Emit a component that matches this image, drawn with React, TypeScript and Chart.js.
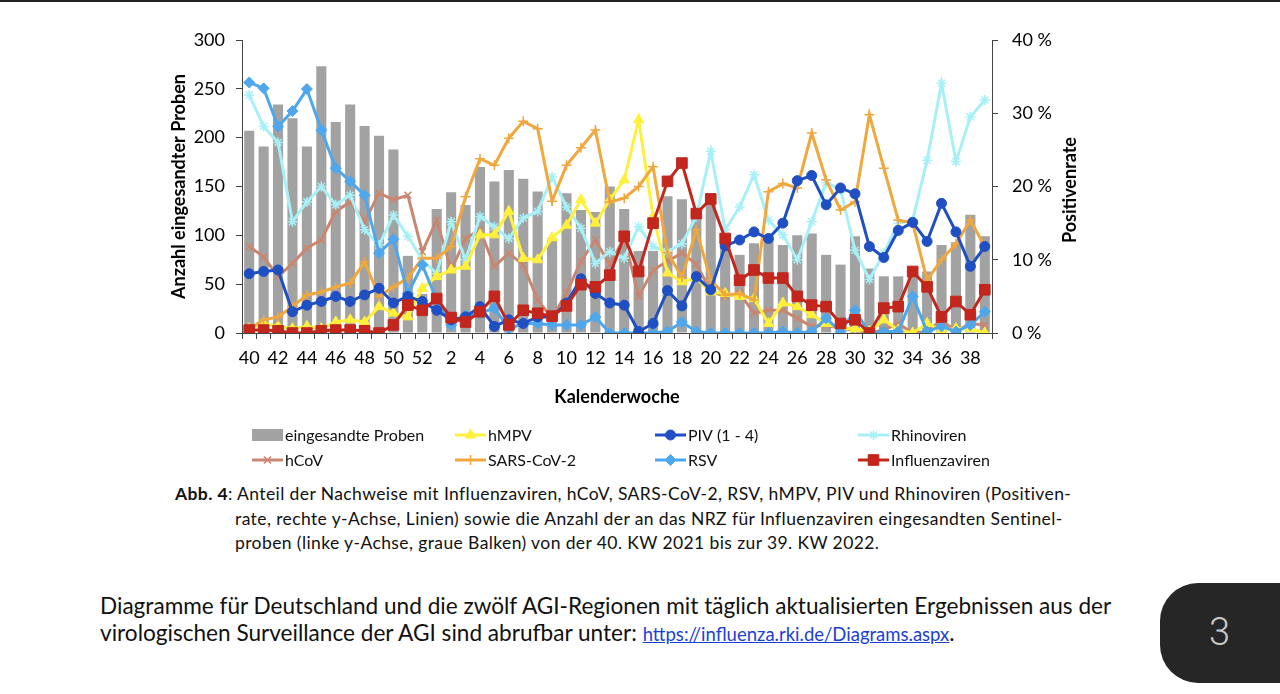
import React, { useEffect, useRef } from 'react';
import { Chart, registerables } from 'chart.js';
import { drawPoint } from 'chart.js/helpers';

Chart.register(...registerables);

// ---------- data ----------
const weeks = ['40','41','42','43','44','45','46','47','48','49','50','51','52','1','2','3','4','5','6','7','8','9','10','11','12','13','14','15','16','17','18','19','20','21','22','23','24','25','26','27','28','29','30','31','32','33','34','35','36','37','38','39'];

const proben = [207,191,234,220,191,273,216,234,212,202,188,79,40,127,144,131,170,155,167,158,145,97,143,126,124,150,127,84,84,140,137,122,143,95,80,92,98,90,100,102,80,70,99,66,58,58,62,63,90,93,121,99];

const hMPV = [0.6,1.3,0.9,0.6,0.9,0.6,1.5,1.8,1.5,3.6,2.7,2.2,6.1,7.7,8.6,9.1,13.4,13.4,16.6,10.2,10.0,13.0,14.7,18.2,15.0,18.2,20.9,29.1,15.9,8.2,7.0,7.5,5.6,5.4,5.0,4.7,1.3,4.1,3.6,2.5,1.3,0.6,0.6,0.2,1.8,0.4,0,1.3,0.4,0.6,0.6,0];

const piv = [8.1,8.4,8.6,2.9,3.8,4.3,5.0,4.3,5.2,6.1,4.1,5.0,4.3,3.1,1.8,2.2,3.6,0.9,1.8,1.3,2.2,2.2,4.1,7.4,5.4,4.1,3.8,0.2,1.3,5.8,3.7,7.7,5.9,11.9,12.7,13.8,12.9,15.0,20.8,21.5,17.5,19.8,19.0,11.8,10.3,14.0,15.1,12.5,17.7,13.8,9.1,11.8];

const rhino = [32.5,28.2,26.0,15.2,17.9,20.0,17.5,18.8,14.1,12.0,16.1,13.2,10.0,8.1,15.2,10.0,15.9,14.5,12.9,15.7,16.6,21.3,17.2,14.3,9.5,11.1,10.2,14.5,11.8,11.1,12.2,15.9,24.8,14.1,17.2,21.6,15.4,13.4,10.0,15.2,20.5,19.6,11.3,7.3,10.9,15.0,15.4,23.6,34.1,23.4,29.5,31.8];

const hcov = [11.8,10.4,7.7,9.5,11.6,12.7,16.6,17.9,15.2,19.1,18.2,18.8,11.1,15.4,8.6,12.9,14.1,9.1,10.9,9.3,4.5,2.0,5.5,9.8,12.7,9.3,13.0,5.0,8.6,9.8,10.9,9.4,5.7,5.0,5.4,2.7,3.1,3.1,2.0,0.9,1.1,0.6,0.4,0,0.4,1.3,0,0.2,1.8,0.2,1.3,1.1];

const sarsCov2 = [0.6,1.8,2.2,3.6,5.2,5.6,6.3,6.8,9.7,5.0,6.3,7.5,10.2,10.2,11.8,18.6,23.8,22.9,26.6,28.9,27.9,18.0,22.9,25.3,27.7,17.9,18.4,20.0,22.7,11.0,7.6,14.1,7.2,5.2,5.4,4.5,19.3,20.4,19.8,27.3,20.9,16.8,17.9,29.8,22.5,15.4,15.0,7.2,10.0,12.2,15.4,11.8];

const rsv = [34.2,33.4,28.2,30.3,33.3,27.7,22.5,20.7,18.8,10.9,12.8,5.4,9.3,4.5,1.1,2.4,2.7,3.4,0.6,1.3,1.3,1.1,1.1,1.1,2.2,0,0,0,0,0.2,1.5,0.2,0,0,0,0,0,0.2,0,0.2,2.0,0.2,3.1,0,0.2,0.2,5.0,0.2,0.9,0.2,1.1,2.9];

const influenza = [0.4,0.4,0.3,0,0,0.3,0.4,0.4,0.3,0,1.1,3.8,3.1,4.7,2.1,1.5,2.9,5.0,1.1,3.1,2.7,2.3,3.7,6.6,6.3,7.9,13.2,8.4,15.0,20.7,23.2,16.3,18.3,12.9,7.2,8.6,7.5,7.5,5.0,3.8,3.6,1.3,1.8,0,3.4,3.6,8.4,6.3,2.2,4.3,2.5,5.9];

const leftTicks = [0, 50, 100, 150, 200, 250, 300];
const rightTicks = [0, 10, 20, 30, 40];

// ---------- styles ----------
const FONT = 'Lato, "Open Sans", sans-serif';
const C = {
  bar: '#A2A2A2',
  hMPV: '#FFF03C',
  piv: '#1F4FC2',
  rhino: '#A8F0F7',
  hcov: '#C98670',
  sars: '#EFA73E',
  rsv: '#4EA7EC',
  flu: '#C2261C',
};

// legend grid: [datasetIndex, x, y]
const legendSlots: [number, number, number][] = [
  [0, 252, 435], [1, 455, 435], [2, 655, 435], [3, 858, 435],
  [4, 252, 460], [5, 455, 460], [6, 655, 460], [7, 858, 460],
];

const customPlugin = {
  id: 'customDecor',
  afterDraw(chart: any) {
    const ctx = chart.ctx;
    ctx.save();
    // right axis title (reads bottom-to-top)
    ctx.translate(1070, 190);
    ctx.rotate(-Math.PI / 2);
    ctx.font = `bold 18px ${FONT}`;
    ctx.fillStyle = '#000';
    ctx.textAlign = 'center';
    ctx.textBaseline = 'middle';
    ctx.fillText('Positivenrate', 0, 0);
    ctx.restore();

    // legend
    ctx.save();
    ctx.font = `16px ${FONT}`;
    ctx.textBaseline = 'middle';
    ctx.textAlign = 'left';
    legendSlots.forEach(([di, x, y]) => {
      const ds = chart.data.datasets[di];
      if (ds.type === 'bar') {
        ctx.fillStyle = ds.backgroundColor;
        ctx.fillRect(x, y - 6, 31, 12);
      } else {
        ctx.strokeStyle = ds.borderColor;
        ctx.lineWidth = 3;
        ctx.beginPath();
        ctx.moveTo(x, y);
        ctx.lineTo(x + 31, y);
        ctx.stroke();
        ctx.fillStyle = ds.pointBackgroundColor;
        ctx.strokeStyle = ds.pointBorderColor;
        ctx.lineWidth = ds.pointBorderWidth;
        drawPoint(ctx, { pointStyle: ds.pointStyle, radius: ds.pointRadius, borderWidth: ds.pointBorderWidth, rotation: 0 } as any, x + 15.5, y);
      }
      ctx.fillStyle = '#111';
      ctx.fillText(ds.label, x + 33, y + 0.5);
    });
    ctx.restore();
  },
};

function lineDs(label: string, data: number[], color: string, pointStyle: string, radius: number, order: number, pbw = 2) {
  return {
    type: 'line' as const,
    label,
    data,
    borderColor: color,
    backgroundColor: color,
    pointBackgroundColor: color,
    pointBorderColor: color,
    pointStyle,
    pointRadius: radius,
    pointBorderWidth: pbw,
    borderWidth: 3,
    tension: 0,
    yAxisID: 'y1',
    order,
  };
}

function ChartView() {
  const ref = useRef<HTMLCanvasElement | null>(null);
  useEffect(() => {
    if (!ref.current) return;
    const tickFont = { family: FONT, size: 18 };
    const titleFont = { family: FONT, size: 18, weight: 'bold' as const };
    const chart = new Chart(ref.current, {
      data: {
        labels: weeks,
        datasets: [
          { type: 'bar', label: 'eingesandte Proben', data: proben, backgroundColor: C.bar, yAxisID: 'y', order: 20, barPercentage: 0.7, categoryPercentage: 1 } as any,
          lineDs('hMPV', hMPV, C.hMPV, 'triangle', 6, 4, 1),
          lineDs('PIV (1 - 4)', piv, C.piv, 'circle', 5, 1, 1),
          lineDs('Rhinoviren', rhino, C.rhino, 'star', 5, 6, 1.5),
          lineDs('hCoV', hcov, C.hcov, 'crossRot', 5, 7, 1.5),
          lineDs('SARS-CoV-2', sarsCov2, C.sars, 'cross', 5, 3, 1.5),
          lineDs('RSV', rsv, C.rsv, 'rectRot', 5.5, 2, 1),
          lineDs('Influenzaviren', influenza, C.flu, 'rect', 7.5, 0, 1),
        ],
      },
      options: {
        responsive: false,
        animation: false,
        layout: { padding: { left: 160, right: 188, top: 40, bottom: 72 } },
        plugins: { legend: { display: false }, tooltip: { enabled: false } },
        scales: {
          x: {
            type: 'category',
            offset: true,
            grid: { display: true, drawOnChartArea: false, drawTicks: true, tickLength: 6, offset: true, color: '#444' },
            border: { display: true, color: '#444', width: 1 },
            ticks: {
              autoSkip: false, maxRotation: 0, minRotation: 0, padding: 8,
              font: tickFont, color: '#000',
              callback: (_v: any, i: number) => (i % 2 === 0 ? weeks[i] : ''),
            },
            title: { display: true, text: 'Kalenderwoche', font: titleFont, color: '#000', padding: { top: 0, bottom: 0 } },
            afterFit: (s: any) => { s.height = 75; },
          },
          y: {
            position: 'left',
            min: 0, max: 300,
            afterBuildTicks: (s: any) => { s.ticks = leftTicks.map((v) => ({ value: v })); },
            grid: { display: true, drawOnChartArea: false, drawTicks: true, tickLength: 6, color: '#444' },
            border: { display: true, color: '#444', width: 1 },
            ticks: { font: tickFont, color: '#000', padding: 11 },
            title: { display: true, text: 'Anzahl eingesandter Proben', font: titleFont, color: '#000', padding: { top: 8, bottom: 0 } },
            afterFit: (s: any) => { s.width = 82; },
          },
          y1: {
            position: 'right',
            min: 0, max: 40,
            afterBuildTicks: (s: any) => { s.ticks = rightTicks.map((v) => ({ value: v })); },
            grid: { display: true, drawOnChartArea: false, drawTicks: true, tickLength: 6, color: '#444' },
            border: { display: true, color: '#444', width: 1 },
            ticks: { font: tickFont, color: '#000', padding: 14, callback: (v: any) => `${v} %` },
            afterFit: (s: any) => { s.width = 100; },
          },
        },
      } as any,
      plugins: [customPlugin],
    });
    return () => chart.destroy();
  }, []);
  return <canvas ref={ref} width={1280} height={480} style={{ position: 'absolute', left: 0, top: 0, width: 1280, height: 480 }} />;
}

const captionStyle: React.CSSProperties = {
  position: 'absolute', fontFamily: FONT, fontSize: 17.5, letterSpacing: '0.4px', lineHeight: '24px', color: '#111', whiteSpace: 'nowrap',
};
const footStyle: React.CSSProperties = {
  position: 'absolute', left: 100, fontFamily: FONT, fontSize: 22.6, lineHeight: '27px', color: '#111', whiteSpace: 'nowrap',
};

export default function App() {
  return (
    <div style={{ position: 'absolute', left: 0, top: 0, width: 1280, height: 694, overflow: 'hidden', background: '#fff' }}>
      <div style={{ position: 'absolute', left: 0, top: 0, width: 1280, height: 2, background: '#222' }} />
      <ChartView />
      <div style={{ ...captionStyle, left: 175, top: 482 }}>
        <b>Abb. 4</b>: Anteil der Nachweise mit Influenzaviren, hCoV, SARS-CoV-2, RSV, hMPV, PIV und Rhinoviren (Positiven-
      </div>
      <div style={{ ...captionStyle, left: 235, top: 507 }}>
        rate, rechte y-Achse, Linien) sowie die Anzahl der an das NRZ für Influenzaviren eingesandten Sentinel-
      </div>
      <div style={{ ...captionStyle, left: 235, top: 531 }}>
        proben (linke y-Achse, graue Balken) von der 40. KW 2021 bis zur 39. KW 2022.
      </div>
      <div style={{ ...footStyle, top: 592 }}>
        Diagramme für Deutschland und die zwölf AGI-Regionen mit täglich aktualisierten Ergebnissen aus der
      </div>
      <div style={{ ...footStyle, top: 619 }}>
        virologischen Surveillance der AGI sind abrufbar unter:{' '}
        <span style={{ color: '#1a3fd6', textDecoration: 'underline', fontSize: 18.5 }}>https://influenza.rki.de/Diagrams.aspx</span>.
      </div>
      <div style={{ position: 'absolute', left: 1160, top: 583, width: 160, height: 100, background: '#262626', borderRadius: 38 }}>
        <div style={{ position: 'absolute', left: 49, top: 27, fontFamily: 'Roboto, sans-serif', fontWeight: 300, fontSize: 38, lineHeight: '44px', color: '#c8c8c8' }}>3</div>
      </div>
    </div>
  );
}
